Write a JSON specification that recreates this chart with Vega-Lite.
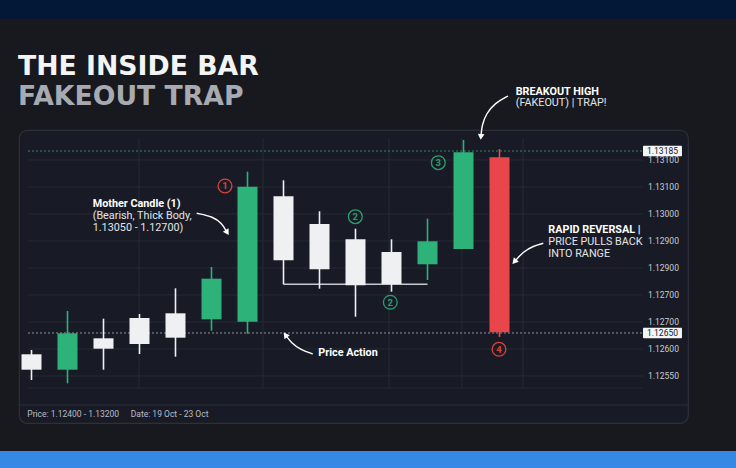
{
  "$schema": "https://vega.github.io/schema/vega-lite/v6.json",
  "width": 669,
  "height": 293,
  "autosize": {"type": "none"},
  "padding": {"left": 19, "top": 130, "right": 48, "bottom": 45},
  "background": "#17191e",
  "config": {
    "view": {"fill": "#181b25", "stroke": "#2c303b", "strokeWidth": 1.2, "cornerRadius": 8},
    "font": "Roboto"
  },
  "datasets": {
    "one": [{}],
    "headline": [
      {"text": "THE INSIDE BAR", "t": 0.625, "p": 1.135148, "line": 1},
      {"text": "FAKEOUT TRAP", "t": 0.625, "p": 1.134037, "line": 2}
    ],
    "candles": [
      {"t": 1, "open": 1.124804, "high": 1.124963, "low": 1.123852, "close": 1.124233, "type": "bear"},
      {"t": 2, "open": 1.124233, "high": 1.126407, "low": 1.12373, "close": 1.125581, "type": "bull"},
      {"t": 3, "open": 1.125396, "high": 1.126122, "low": 1.124233, "close": 1.125011, "type": "bear"},
      {"t": 4, "open": 1.126148, "high": 1.126296, "low": 1.124815, "close": 1.125185, "type": "bear"},
      {"t": 5, "open": 1.126322, "high": 1.127248, "low": 1.124715, "close": 1.125419, "type": "bear"},
      {"t": 6, "open": 1.1261, "high": 1.128037, "low": 1.125678, "close": 1.127604, "type": "bull"},
      {"t": 7, "open": 1.126011, "high": 1.131567, "low": 1.125567, "close": 1.131011, "type": "bull"},
      {"t": 8, "open": 1.130656, "high": 1.131248, "low": 1.127396, "close": 1.128285, "type": "bear"},
      {"t": 9, "open": 1.12963, "high": 1.1301, "low": 1.127233, "close": 1.127952, "type": "bear"},
      {"t": 10, "open": 1.129063, "high": 1.129456, "low": 1.126196, "close": 1.127359, "type": "bear"},
      {"t": 11, "open": 1.128593, "high": 1.129063, "low": 1.127122, "close": 1.127407, "type": "bear"},
      {"t": 12, "open": 1.128137, "high": 1.129826, "low": 1.127556, "close": 1.128989, "type": "bull"},
      {"t": 13, "open": 1.128704, "high": 1.132741, "low": 1.128704, "close": 1.132285, "type": "bull"},
      {"t": 14, "open": 1.1321, "high": 1.132407, "low": 1.125444, "close": 1.125619, "type": "trap"}
    ],
    "grid": [
      {"p": 1.132}, {"p": 1.131}, {"p": 1.13}, {"p": 1.129}, {"p": 1.128},
      {"p": 1.127}, {"p": 1.126}, {"p": 1.125}, {"p": 1.124}, {"p": 1.123556}
    ],
    "ticks": [
      {"p": 1.132, "label": "1.13100"},
      {"p": 1.131, "label": "1.13100"},
      {"p": 1.13, "label": "1.13000"},
      {"p": 1.129, "label": "1.12900"},
      {"p": 1.128, "label": "1.12900"},
      {"p": 1.127, "label": "1.12700"},
      {"p": 1.126, "label": "1.12700"},
      {"p": 1.125, "label": "1.12600"},
      {"p": 1.124, "label": "1.12550"}
    ],
    "vgrid": [{"t": 3.986}, {"t": 7.431}, {"t": 10.931}, {"t": 12.958}, {"t": 14.653}],
    "markers": [
      {"n": "1", "t": 6.375, "p": 1.131037},
      {"n": "2", "t": 9.995, "p": 1.1299},
      {"n": "2", "t": 10.967, "p": 1.12673},
      {"n": "3", "t": 12.3, "p": 1.1319},
      {"n": "4", "t": 13.986, "p": 1.124989}
    ],
    "notes": [
      {"text": "Mother Candle (1)", "t": 2.7, "p": 1.130359, "role": "head"},
      {"text": "(Bearish, Thick Body,", "t": 2.7, "p": 1.129926, "role": "body"},
      {"text": "1.13050 - 1.12700)", "t": 2.7, "p": 1.129493, "role": "body"},
      {"text": "Price Action", "t": 8.967, "p": 1.124841, "role": "head"},
      {"text": "BREAKOUT HIGH", "t": 14.45, "p": 1.13453, "role": "head"},
      {"text": "(FAKEOUT) | TRAP!", "t": 14.45, "p": 1.1341, "role": "body"},
      {"text": "RAPID REVERSAL |", "t": 15.356, "p": 1.129407, "role": "head"},
      {"text": "PRICE PULLS BACK", "t": 15.356, "p": 1.128952, "role": "body"},
      {"text": "INTO RANGE", "t": 15.356, "p": 1.128507, "role": "body"}
    ],
    "arrows": [
      {"id": "mother", "seq": 1, "t": 5.589, "p": 1.130026},
      {"id": "mother", "seq": 2, "t": 6.05, "p": 1.1299},
      {"id": "mother", "seq": 3, "t": 6.284, "p": 1.129656},
      {"id": "mother", "seq": 4, "t": 6.422, "p": 1.129344},
      {"id": "price", "seq": 1, "t": 8.811, "p": 1.124815},
      {"id": "price", "seq": 2, "t": 8.458, "p": 1.124989},
      {"id": "price", "seq": 3, "t": 8.228, "p": 1.125211},
      {"id": "price", "seq": 4, "t": 8.069, "p": 1.125493},
      {"id": "breakout", "seq": 1, "t": 14.236, "p": 1.13437},
      {"id": "breakout", "seq": 2, "t": 13.875, "p": 1.134111},
      {"id": "breakout", "seq": 3, "t": 13.625, "p": 1.133704},
      {"id": "breakout", "seq": 4, "t": 13.514, "p": 1.133296},
      {"id": "breakout", "seq": 5, "t": 13.486, "p": 1.132889},
      {"id": "reversal", "seq": 1, "t": 15.217, "p": 1.128915},
      {"id": "reversal", "seq": 2, "t": 14.939, "p": 1.128815},
      {"id": "reversal", "seq": 3, "t": 14.661, "p": 1.128604},
      {"id": "reversal", "seq": 4, "t": 14.431, "p": 1.128259}
    ],
    "footer": [
      {"text": "Price: 1.12400 - 1.13200", "t": 0.8833, "p": 1.122593},
      {"text": "Date: 19 Oct - 23 Oct", "t": 3.756, "p": 1.122593}
    ]
  },
  "layer": [
    {
      "data": {"name": "one"},
      "mark": {"type": "rect", "color": "#031837"},
      "encoding": {
        "x": {"datum": -1, "type": "quantitative", "scale": {"domain": [0.6528, 19.2361], "nice": false, "zero": false, "padding": 0}, "axis": null},
        "x2": {"datum": 22},
        "y": {"datum": 1.1386, "type": "quantitative", "scale": {"domain": [1.122259, 1.133111], "nice": false, "zero": false, "padding": 0}, "axis": null},
        "y2": {"datum": 1.137222}
      }
    },
    {
      "data": {"name": "one"},
      "mark": {"type": "rect", "color": "#3588e5"},
      "encoding": {
        "x": {"datum": -1, "type": "quantitative"},
        "x2": {"datum": 22},
        "y": {"datum": 1.121222, "type": "quantitative"},
        "y2": {"datum": 1.119}
      }
    },
    {
      "data": {"name": "headline"},
      "transform": [{"filter": "datum.line === 1"}],
      "mark": {"type": "text", "font": "DejaVu Sans", "fontSize": 26.7, "fontWeight": "bold", "align": "left", "baseline": "alphabetic", "color": "#f4f4f5"},
      "encoding": {
        "x": {"field": "t", "type": "quantitative", "title": null},
        "y": {"field": "p", "type": "quantitative", "title": null},
        "text": {"field": "text"}
      }
    },
    {
      "data": {"name": "headline"},
      "transform": [{"filter": "datum.line === 2"}],
      "mark": {"type": "text", "font": "DejaVu Sans", "fontSize": 26.7, "fontWeight": "bold", "align": "left", "baseline": "alphabetic", "color": "#a7aab0"},
      "encoding": {
        "x": {"field": "t", "type": "quantitative", "title": null},
        "y": {"field": "p", "type": "quantitative", "title": null},
        "text": {"field": "text"}
      }
    },
    {
      "data": {"name": "one"},
      "mark": {"type": "rule", "color": "#2a2e39", "strokeWidth": 1},
      "encoding": {"y": {"datum": 1.122926, "type": "quantitative"}}
    },
    {
      "data": {"name": "grid"},
      "mark": {"type": "rule", "color": "#262a35", "strokeWidth": 1},
      "encoding": {
        "x": {"datum": 0.9028, "type": "quantitative"},
        "x2": {"datum": 17.986},
        "y": {"field": "p", "type": "quantitative", "title": null}
      }
    },
    {
      "data": {"name": "vgrid"},
      "mark": {"type": "rule", "color": "#262a35", "strokeWidth": 1},
      "encoding": {
        "x": {"field": "t", "type": "quantitative", "title": null},
        "y": {"datum": 1.132815, "type": "quantitative"},
        "y2": {"datum": 1.123556}
      }
    },
    {
      "data": {"name": "ticks"},
      "mark": {"type": "text", "fontSize": 8.5, "align": "left", "baseline": "middle", "color": "#c9ccd3"},
      "encoding": {
        "x": {"datum": 18.125, "type": "quantitative"},
        "y": {"field": "p", "type": "quantitative", "title": null},
        "text": {"field": "label"}
      }
    },
    {
      "data": {"name": "one"},
      "mark": {"type": "rule", "color": "#2e8c66", "strokeWidth": 1, "strokeDash": [2, 2]},
      "encoding": {
        "x": {"datum": 0.9028, "type": "quantitative"},
        "x2": {"datum": 17.986},
        "y": {"datum": 1.132333, "type": "quantitative"}
      }
    },
    {
      "data": {"name": "one"},
      "mark": {"type": "rule", "color": "#8e939c", "strokeWidth": 1, "strokeDash": [2, 2]},
      "encoding": {
        "x": {"datum": 0.9028, "type": "quantitative"},
        "x2": {"datum": 17.986},
        "y": {"datum": 1.125593, "type": "quantitative"}
      }
    },
    {
      "data": {"name": "one"},
      "mark": {"type": "rule", "color": "#c5c9cf", "strokeWidth": 1.5},
      "encoding": {
        "x": {"datum": 8, "type": "quantitative"},
        "x2": {"datum": 12},
        "y": {"datum": 1.127396, "type": "quantitative"}
      }
    },
    {
      "data": {"name": "candles"},
      "mark": {"type": "rule", "strokeWidth": 1.6},
      "encoding": {
        "x": {"field": "t", "type": "quantitative", "title": null},
        "y": {"field": "low", "type": "quantitative", "title": null},
        "y2": {"field": "high"},
        "color": {"field": "type", "type": "nominal", "legend": null, "scale": {"domain": ["bull", "bear", "trap"], "range": ["#2db37a", "#eff0f2", "#e8464a"]}}
      }
    },
    {
      "data": {"name": "candles"},
      "mark": {"type": "bar", "width": 20},
      "encoding": {
        "x": {"field": "t", "type": "quantitative", "title": null},
        "y": {"field": "open", "type": "quantitative", "title": null},
        "y2": {"field": "close"},
        "color": {"field": "type", "type": "nominal", "legend": null}
      }
    },
    {
      "data": {"name": "markers"},
      "mark": {"type": "point", "shape": "circle", "filled": false, "size": 190, "strokeWidth": 1.3, "opacity": 1},
      "encoding": {
        "x": {"field": "t", "type": "quantitative", "title": null},
        "y": {"field": "p", "type": "quantitative", "title": null},
        "stroke": {"field": "n", "type": "nominal", "legend": null, "scale": {"domain": ["1", "2", "3", "4"], "range": ["#d9443f", "#2a9f6d", "#2a9f6d", "#d9443f"]}}
      }
    },
    {
      "data": {"name": "markers"},
      "mark": {"type": "text", "fontSize": 9.5, "fontWeight": "bold", "align": "center", "baseline": "middle", "dy": 0.5},
      "encoding": {
        "x": {"field": "t", "type": "quantitative", "title": null},
        "y": {"field": "p", "type": "quantitative", "title": null},
        "text": {"field": "n"},
        "fill": {"field": "n", "type": "nominal", "legend": null, "scale": {"domain": ["1", "2", "3", "4"], "range": ["#d9443f", "#2a9f6d", "#2a9f6d", "#d9443f"]}}
      }
    },
    {
      "data": {"name": "notes"},
      "transform": [{"filter": "datum.role === 'head'"}],
      "mark": {"type": "text", "fontSize": 10.8, "fontWeight": "bold", "align": "left", "baseline": "middle", "color": "#ffffff"},
      "encoding": {
        "x": {"field": "t", "type": "quantitative", "title": null},
        "y": {"field": "p", "type": "quantitative", "title": null},
        "text": {"field": "text"}
      }
    },
    {
      "data": {"name": "notes"},
      "transform": [{"filter": "datum.role === 'body'"}],
      "mark": {"type": "text", "fontSize": 10.8, "align": "left", "baseline": "middle", "color": "#e2e4e8"},
      "encoding": {
        "x": {"field": "t", "type": "quantitative", "title": null},
        "y": {"field": "p", "type": "quantitative", "title": null},
        "text": {"field": "text"}
      }
    },
    {
      "data": {"name": "arrows"},
      "mark": {"type": "line", "color": "#ffffff", "strokeWidth": 1.4, "interpolate": "basis"},
      "encoding": {
        "x": {"field": "t", "type": "quantitative", "title": null},
        "y": {"field": "p", "type": "quantitative", "title": null},
        "detail": {"field": "id"},
        "order": {"field": "seq"}
      }
    },
    {
      "data": {"name": "one"},
      "mark": {"type": "point", "shape": "triangle", "filled": true, "color": "#ffffff", "size": 45, "angle": 149, "opacity": 1},
      "encoding": {"x": {"datum": 6.422, "type": "quantitative"}, "y": {"datum": 1.129344, "type": "quantitative"}}
    },
    {
      "data": {"name": "one"},
      "mark": {"type": "point", "shape": "triangle", "filled": true, "color": "#ffffff", "size": 45, "angle": 323, "opacity": 1},
      "encoding": {"x": {"datum": 8.069, "type": "quantitative"}, "y": {"datum": 1.125493, "type": "quantitative"}}
    },
    {
      "data": {"name": "one"},
      "mark": {"type": "point", "shape": "triangle", "filled": true, "color": "#ffffff", "size": 45, "angle": 185, "opacity": 1},
      "encoding": {"x": {"datum": 13.486, "type": "quantitative"}, "y": {"datum": 1.132889, "type": "quantitative"}}
    },
    {
      "data": {"name": "one"},
      "mark": {"type": "point", "shape": "triangle", "filled": true, "color": "#ffffff", "size": 45, "angle": 222, "opacity": 1},
      "encoding": {"x": {"datum": 14.431, "type": "quantitative"}, "y": {"datum": 1.128259, "type": "quantitative"}}
    },
    {
      "data": {"name": "footer"},
      "mark": {"type": "text", "fontSize": 8.5, "align": "left", "baseline": "middle", "color": "#b9bdc5"},
      "encoding": {
        "x": {"field": "t", "type": "quantitative", "title": null},
        "y": {"field": "p", "type": "quantitative", "title": null},
        "text": {"field": "text"}
      }
    },
    {
      "data": {"name": "one"},
      "mark": {"type": "rect", "color": "#f3f4f6", "cornerRadius": 1},
      "encoding": {
        "x": {"datum": 17.986, "type": "quantitative"}, "x2": {"datum": 19.069},
        "y": {"datum": 1.132526, "type": "quantitative"}, "y2": {"datum": 1.13214}
      }
    },
    {
      "data": {"name": "one"},
      "mark": {"type": "rect", "color": "#f3f4f6", "cornerRadius": 1},
      "encoding": {
        "x": {"datum": 17.986, "type": "quantitative"}, "x2": {"datum": 19.069},
        "y": {"datum": 1.125786, "type": "quantitative"}, "y2": {"datum": 1.1254}
      }
    },
    {
      "data": {"name": "one"},
      "mark": {"type": "text", "fontSize": 8.5, "align": "center", "baseline": "middle", "color": "#15171c", "text": "1.13185"},
      "encoding": {"x": {"datum": 18.528, "type": "quantitative"}, "y": {"datum": 1.132333, "type": "quantitative"}}
    },
    {
      "data": {"name": "one"},
      "mark": {"type": "text", "fontSize": 8.5, "align": "center", "baseline": "middle", "color": "#15171c", "text": "1.12650"},
      "encoding": {"x": {"datum": 18.528, "type": "quantitative"}, "y": {"datum": 1.125593, "type": "quantitative"}}
    }
  ]
}
